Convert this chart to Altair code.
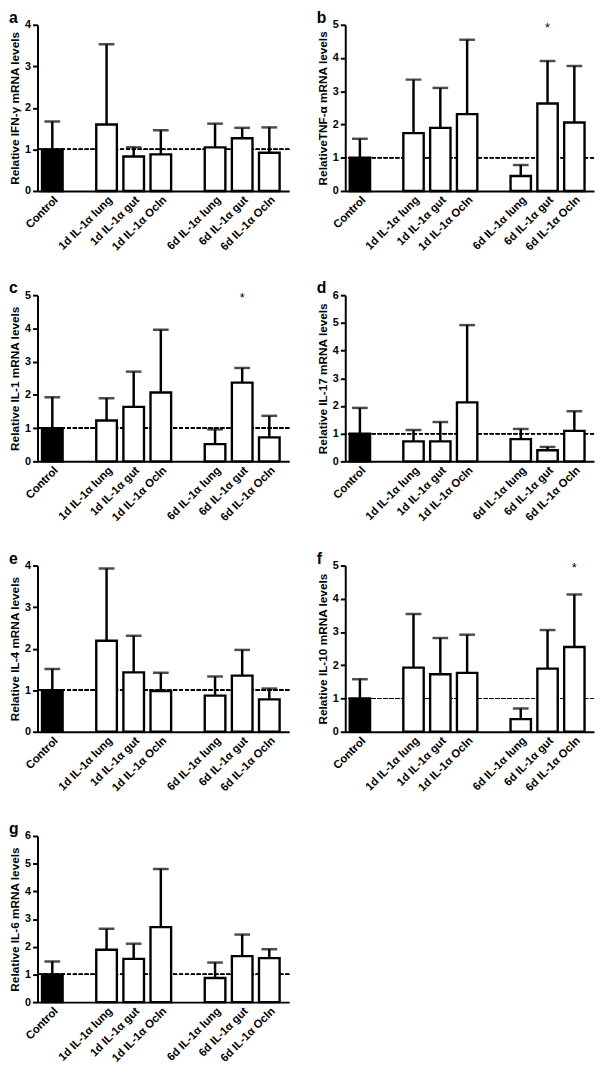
import altair as alt
import pandas as pd

categories = ["Control", "1d IL-1α lung", "1d IL-1α gut", "1d IL-1α Ocln",
              "6d IL-1α lung", "6d IL-1α gut", "6d IL-1α Ocln"]
spacers = [" ", "  "]
x_domain = [categories[0], spacers[0]] + categories[1:4] + [spacers[1]] + categories[4:]
bar_fill = ["black"] + ["white"] * 6

# panel letters, y titles, axis max
letters = ["a", "b", "c", "d", "e", "f", "g"]
y_titles = ["Relative IFN-γ mRNA levels", "RelativeTNF-α mRNA levels",
            "Relative IL-1 mRNA levels", "Relative IL-17 mRNA levels",
            "Relative IL-4 mRNA levels", "Relative IL-10 mRNA levels",
            "Relative IL-6 mRNA levels"]
y_max = [4, 5, 5, 6, 4, 5, 6]

# means
a_mean = [1.0, 1.60, 0.83, 0.88, 1.05, 1.27, 0.92]
b_mean = [1.0, 1.74, 1.90, 2.31, 0.45, 2.63, 2.06]
c_mean = [1.0, 1.23, 1.64, 2.07, 0.52, 2.37, 0.72]
d_mean = [1.0, 0.72, 0.72, 2.13, 0.80, 0.40, 1.10]
e_mean = [1.0, 2.19, 1.43, 0.98, 0.87, 1.35, 0.78]
f_mean = [1.0, 1.93, 1.73, 1.77, 0.38, 1.90, 2.55]
g_mean = [1.0, 1.89, 1.56, 2.71, 0.87, 1.66, 1.59]

# upper error (SD)
a_sd = [0.67, 1.93, 0.22, 0.58, 0.57, 0.25, 0.61]
b_sd = [0.57, 1.61, 1.20, 2.24, 0.33, 1.28, 1.70]
c_sd = [0.93, 0.67, 1.06, 1.89, 0.44, 0.44, 0.65]
d_sd = [0.93, 0.41, 0.70, 2.79, 0.37, 0.12, 0.71]
e_sd = [0.51, 1.74, 0.88, 0.44, 0.46, 0.62, 0.26]
f_sd = [0.58, 1.61, 1.09, 1.15, 0.32, 1.16, 1.58]
g_sd = [0.47, 0.76, 0.55, 2.10, 0.56, 0.78, 0.32]

# significance stars
a_star = []
b_star = ["6d IL-1α gut"]
c_star = ["6d IL-1α gut"]
d_star = []
e_star = []
f_star = ["6d IL-1α Ocln"]
g_star = []

means = [a_mean, b_mean, c_mean, d_mean, e_mean, f_mean, g_mean]
sds = [a_sd, b_sd, c_sd, d_sd, e_sd, f_sd, g_sd]
stars = [a_star, b_star, c_star, d_star, e_star, f_star, g_star]

PLOT_H = 169


def panel(i, width):
    df = pd.DataFrame({
        "cat": categories,
        "mean": means[i],
        "upper": [m + s for m, s in zip(means[i], sds[i])],
        "fill": bar_fill,
    })
    ymax = y_max[i]
    xenc = alt.X("cat:N", sort=x_domain,
                 scale=alt.Scale(domain=x_domain, paddingInner=0.24,
                                 paddingOuter=0.26, align=0.32),
                 axis=alt.Axis(title=None, labelAngle=-45, ticks=False,
                               domainWidth=2, domainColor="black",
                               labelFontSize=11.5, labelFontWeight="bold",
                               labelColor="black", labelPadding=3))
    yscale = alt.Scale(domain=[0, ymax], nice=False)
    yaxis = alt.Axis(title=y_titles[i], values=list(range(ymax + 1)),
                     grid=False, domainWidth=2, domainColor="black",
                     tickWidth=2, tickSize=5, tickColor="black",
                     labelFontSize=11, labelFontWeight="bold",
                     labelColor="black", labelPadding=2,
                     titleFontSize=12, titleFontWeight="bold",
                     titleColor="black", titlePadding=3)
    base = alt.Chart(df)
    ref = base.mark_rule(strokeDash=[4, 2], strokeWidth=1.2, color="black").encode(
        y=alt.datum(1, scale=yscale, axis=yaxis)
    )
    err = base.mark_rule(strokeWidth=2.5, color="black").encode(
        x=xenc,
        y=alt.Y("mean:Q", scale=yscale, axis=yaxis),
        y2="upper:Q",
    )
    cap = base.mark_tick(orient="horizontal", size=16, thickness=2.5, color="black").encode(
        x=xenc,
        y=alt.Y("upper:Q", scale=yscale, axis=yaxis),
    )
    bars = base.mark_bar(stroke="black", strokeWidth=2.4).encode(
        x=xenc,
        y=alt.Y("mean:Q", scale=yscale, axis=yaxis),
        fill=alt.Fill("fill:N", scale=None),
    )
    letter = alt.Chart(pd.DataFrame({"t": [letters[i]]})).mark_text(
        fontSize=16, fontWeight="bold", align="left", baseline="alphabetic",
        color="black"
    ).encode(x=alt.value(-29), y=alt.value(-2), text="t:N")
    layers = [ref, err, cap, bars, letter]
    if stars[i]:
        sdf = pd.DataFrame({"cat": stars[i], "s": ["*"] * len(stars[i])})
        star = alt.Chart(sdf).mark_text(fontSize=13, baseline="middle", dy=3,
                                         color="black").encode(
            x=xenc,
            y=alt.datum(ymax, scale=yscale, axis=yaxis),
            text="s:N",
        )
        layers.append(star)
    return alt.layer(*layers).properties(width=width, height=PLOT_H)


row1 = alt.hconcat(panel(0, 256), panel(1, 253), spacing=26)
row2 = alt.hconcat(panel(2, 256), panel(3, 253), spacing=26)
row3 = alt.hconcat(panel(4, 256), panel(5, 253), spacing=26)
row4 = panel(6, 256)

chart = alt.vconcat(row1, row2, row3, row4, spacing=28).properties(
    padding={"top": -7, "left": 0, "right": 0, "bottom": 0}
).configure(font="Liberation Sans").configure_view(stroke=None)

chart.save("out.html", embed_options={"renderer": "svg", "actions": False})
